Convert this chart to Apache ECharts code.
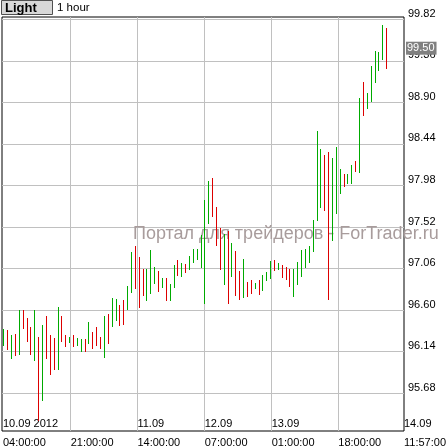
<!DOCTYPE html>
<html><head><meta charset="utf-8">
<script src="https://cdn.jsdelivr.net/npm/echarts@6/dist/echarts.min.js"></script>
<style>html,body{margin:0;padding:0;background:#fff}#c{width:448px;height:448px}</style>
</head><body><div id="c"></div>
<script>
// hourly bars (high / low), direction 1 = up (green), -1 = down (red)
const highs = [96.39,96.38,96.32,96.34,96.60,96.60,96.51,96.41,96.60,96.30, 96.43,96.53,96.32,96.29,96.63,96.53,96.32,96.30,96.32,96.29, 96.28,96.28,96.47,96.36,96.41,96.30,96.53,96.56,96.73,96.72, 96.66,96.71,96.87,97.24,97.31,97.19,97.06,97.06,97.27,97.08, 97.03,96.96,96.96,96.89,97.10,97.15,97.12,97.11,97.20,97.28, 97.28,97.43,97.82,98.03,98.06,97.74,97.51,97.44,97.48,97.34, 97.25,97.03,97.17,96.91,96.93,96.90,96.93,96.99,97.02,97.14, 97.15,97.12,97.10,97.08,97.06,97.06,97.13,97.27,97.28,97.31, 97.60,98.58,98.38,98.32,98.35,98.28,98.41,98.16,98.11,98.11, 98.21,98.25,98.95,99.13,99.00,99.30,99.47,99.46,99.76,99.72];
const lows = [96.20,96.16,96.06,96.09,96.10,96.39,96.25,96.10,96.04,95.37, 95.59,96.06,95.88,95.94,95.94,96.25,96.19,96.24,96.19,96.20, 96.14,96.14,96.22,96.17,96.20,96.17,96.07,96.22,96.41,96.48, 96.42,96.43,96.60,96.79,96.83,96.62,96.76,96.70,96.78,96.89, 96.80,96.84,96.70,96.70,96.84,96.98,96.97,97.01,97.04,97.12, 97.15,97.07,96.67,97.55,97.63,97.31,97.04,96.88,96.67,96.97, 96.76,96.71,96.73,96.74,96.78,96.83,96.77,96.81,96.92,96.94, 97.03,97.04,96.96,96.93,96.86,96.74,96.88,96.97,97.07,97.12, 97.24,97.59,97.73,97.70,96.71,97.37,97.66,97.89,97.96,98.00, 98.00,98.13,98.12,98.75,98.83,98.90,99.11,99.25,99.37,99.27];
const dirs = [1,-1,1,-1,1,-1,-1,-1,1,-1, 1,-1,-1,-1,1,-1,-1,1,-1,1, 1,-1,1,-1,-1,-1,1,-1,1,1, -1,-1,1,1,-1,-1,-1,1,1,1, -1,1,-1,1,1,-1,1,-1,1,1, 1,1,1,1,-1,-1,-1,1,-1,1, -1,-1,1,-1,-1,1,-1,1,1,1, -1,1,-1,-1,-1,1,1,1,1,1, 1,1,1,-1,-1,1,1,1,-1,1, 1,-1,1,-1,1,1,1,1,1,-1];

const priceTicks = [95.68, 96.14, 96.60, 97.06, 97.52, 97.98, 98.44, 98.90, 99.36, 99.82];
const xGridPos = [17.27, 34.53, 51.95, 69.28, 86.51];
const timeTickPos = [-0.24, 17.27, 34.53, 51.95, 69.28, 86.51, 103.5];
const timeTickLabels = ['04:00:00','21:00:00','14:00:00','07:00:00','01:00:00','18:00:00','11:57:00'];
const dateTickPos = [-0.24, 34.53, 51.95, 69.28, 103.5];
const dateTickLabels = ['10.09 2012','11.09','12.09','13.09','14.09'];
const lastPrice = 99.50;
const timeframe = '1 hour';
const watermark = 'Портал для трейдеров - ForTrader.ru';

const UP = '#00aa00', DOWN = '#dd0000';
const FONT = 'Liberation Sans';
function lookup(pos, labels, v){
  let best = 0, d = Infinity;
  pos.forEach((p,i)=>{ const dd = Math.abs(p - v); if (dd < d){ d = dd; best = i; } });
  return labels[best];
}
const barData = highs.map((h,i)=>[i, h, lows[i], dirs[i]]);

const chart = echarts.init(document.getElementById('c'), null, {renderer:'canvas'});
chart.setOption({
  animation: false,
  backgroundColor: '#fff',
  grid: {left: 2, top: 17, width: 402, height: 414, show: true, borderColor: '#000', borderWidth: 1, backgroundColor: '#fff', outerBoundsMode: 'none', containLabel: false},
  xAxis: [{
    type: 'value', min: -0.5, max: 103.5, position: 'bottom',
    axisLine: {show: false},
    axisTick: {show: false, customValues: xGridPos},
    splitLine: {show: true, lineStyle: {color: '#c0c0c0', width: 1}},
    axisLabel: {customValues: timeTickPos, formatter: v => lookup(timeTickPos, timeTickLabels, v), align: 'left', margin: 6, color: '#000', fontFamily: FONT, fontSize: 11, showMinLabel: true, showMaxLabel: true}
  },{
    type: 'value', min: -0.5, max: 103.5, position: 'bottom',
    axisLine: {show: false}, axisTick: {show: false}, splitLine: {show: false},
    axisLabel: {inside: true, customValues: dateTickPos, formatter: v => lookup(dateTickPos, dateTickLabels, v), align: 'left', margin: 2, color: '#000', fontFamily: FONT, fontSize: 11, showMinLabel: true, showMaxLabel: true}
  }],
  yAxis: {
    type: 'value', position: 'right', min: 95.2614, max: 99.8455,
    axisLine: {show: false},
    axisTick: {show: false, customValues: priceTicks},
    splitLine: {show: true, lineStyle: {color: '#c0c0c0', width: 1}},
    axisLabel: {customValues: priceTicks, formatter: v => v.toFixed(2), align: 'left', verticalAlign: 'bottom', margin: 4, color: '#000', fontFamily: FONT, fontSize: 11, showMinLabel: true, showMaxLabel: true}
  },
  graphic: [
    {type: 'text', left: 133, top: 225, z: 1, style: {text: watermark, fill: '#a89c9c', fontFamily: FONT, fontSize: 18}},
    {type: 'rect', z: 10, shape: {x: 1.5, y: 0.5, width: 51, height: 14}, style: {fill: '#d8d8d8', stroke: '#505050', lineWidth: 1}},
    {type: 'text', z: 11, x: 5, y: 8, style: {text: 'Light', fill: '#000', fontFamily: FONT, fontSize: 13, fontWeight: 'bold', verticalAlign: 'middle'}},
    {type: 'text', z: 11, x: 57, y: 8, style: {text: timeframe, fill: '#000', fontFamily: FONT, fontSize: 11.5, verticalAlign: 'middle'}}
  ],
  series: [{
    type: 'custom',
    xAxisIndex: 0,
    z: 5,
    clip: false,
    data: barData,
    encode: {x: 0, y: [1, 2]},
    renderItem: function(params, api){
      const i = api.value(0);
      const hi = api.coord([i, api.value(1)]);
      const lo = api.coord([i, api.value(2)]);
      const x = Math.round(hi[0] - 0.5) + 0.5;
      return {type: 'line', shape: {x1: x, y1: Math.round(hi[1]), x2: x, y2: Math.round(lo[1])},
              style: {stroke: api.value(3) > 0 ? UP : DOWN, lineWidth: 1, fill: null}};
    },
    markLine: {
      silent: true, symbol: 'none', animation: false,
      lineStyle: {color: 'rgba(0,0,0,0)', width: 0, opacity: 1},
      label: {show: true, position: 'end', distance: 2, opacity: 1, formatter: lastPrice.toFixed(2), backgroundColor: '#808080', color: '#fff', padding: [1, 2, 1, 1], fontFamily: FONT, fontSize: 11},
      data: [{yAxis: lastPrice}]
    }
  }]
});
</script></body></html>
